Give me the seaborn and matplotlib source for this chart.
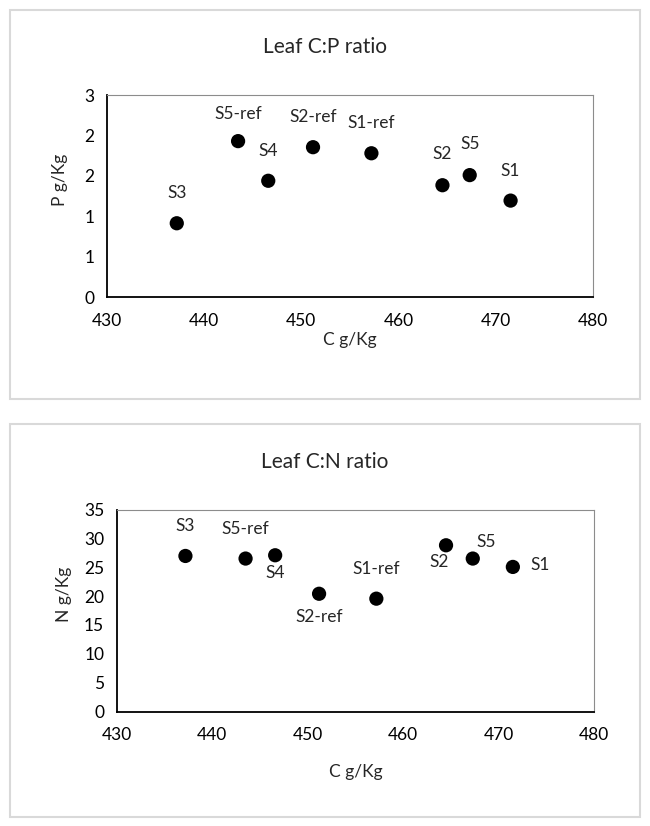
import matplotlib
matplotlib.use("Agg")
import matplotlib.pyplot as plt
import matplotlib.patches as patches
import pandas as pd
import seaborn as sns

# values
sites = ["S3", "S5-ref", "S4", "S2-ref", "S1-ref", "S2", "S5", "S1"]
carbon = [437.2, 443.5, 446.6, 451.2, 457.2, 464.5, 467.3, 471.5]
phosphorus = [0.915, 1.93, 1.44, 1.855, 1.78, 1.385, 1.51, 1.195]
nitrogen = [26.95, 26.5, 27.07, 20.4, 19.55, 28.8, 26.5, 25.05]

x_ticks = [430, 440, 450, 460, 470, 480]
p_ticks = [0, 0.5, 1.0, 1.5, 2.0, 2.5]
p_tick_labels = ["0", "1", "1", "2", "2", "3"]   # excel "0" number format
n_ticks = [0, 5, 10, 15, 20, 25, 30, 35]

# label offsets in pixels (dx, dy)
p_offsets = [(0, 30), (0, 27), (0, 30), (0, 30), (0, 30), (0, 31), (0, 31), (0, 30)]
n_offsets = [(0, 30), (0, 30), (0, -18), (0, -23), (0, 30), (-7, -17), (13, 17), (27, 2)]

df = pd.DataFrame({"site": sites, "C": carbon, "P": phosphorus, "N": nitrogen})

sns.set_theme(style="white")
plt.rcParams["font.family"] = ["Lato", "DejaVu Sans"]

W, H = 650, 826
fig = plt.figure(figsize=(W / 100, H / 100), dpi=100)

# chart area borders
for top, bot in [(10, 399), (424, 817)]:
    fig.patches.append(patches.Rectangle((10 / W, 1 - bot / H), 630 / W, (bot - top) / H,
                                         transform=fig.transFigure, fill=False,
                                         edgecolor="#d9d9d9", linewidth=1.5))


def style_axes(ax):
    for s in ["left", "bottom"]:
        ax.spines[s].set_color("black")
        ax.spines[s].set_linewidth(1.3)
    for s in ["top", "right"]:
        ax.spines[s].set_color("#8c8c8c")
        ax.spines[s].set_linewidth(0.8)
    ax.tick_params(axis="both", direction="out", length=4, width=1.3, color="black",
                   labelsize=12.5, labelcolor="black", pad=5)
    ax.tick_params(axis="x", pad=7)
    ax.grid(False)


def draw(ax, ycol, offsets):
    sns.scatterplot(data=df, x="C", y=ycol, ax=ax, color="black", s=105,
                    edgecolor="none", legend=False, clip_on=False)
    for name, xv, yv, (dx, dy) in zip(df["site"], df["C"], df[ycol], offsets):
        ax.annotate(name, (xv, yv), xytext=(dx, dy), textcoords="offset pixels",
                    ha="center", va="center", fontsize=12.5)


# top: C:P
ax1 = fig.add_axes([106.7 / W, 1 - 297.3 / H, 486.6 / W, 202.3 / H])
draw(ax1, "P", p_offsets)
ax1.set_xlim(430, 480)
ax1.set_ylim(0, 2.5)
ax1.set_xticks(x_ticks)
ax1.set_yticks(p_ticks)
ax1.set_yticklabels(p_tick_labels)
style_axes(ax1)
ax1.set_xlabel("C g/Kg", fontsize=12.5, va="center")
ax1.xaxis.set_label_coords(0.5, -(340 - 297.3) / 202.3)
ax1.set_ylabel("P g/Kg", fontsize=12.5, va="center")
ax1.yaxis.set_label_coords(-(106.7 - 60) / 486.6, 0.58)
fig.text(325 / W, 1 - 47.3 / H, "Leaf C:P ratio", ha="center", va="center", fontsize=15)

# bottom: C:N
ax2 = fig.add_axes([116.7 / W, 1 - 711.5 / H, 477.3 / W, 202 / H])
draw(ax2, "N", n_offsets)
ax2.set_xlim(430, 480)
ax2.set_ylim(0, 35)
ax2.set_xticks(x_ticks)
ax2.set_yticks(n_ticks)
style_axes(ax2)
ax2.set_xlabel("C g/Kg", fontsize=12.5, va="center")
ax2.xaxis.set_label_coords(0.5, -(772 - 711.5) / 202)
ax2.set_ylabel("N g/Kg", fontsize=12.5, va="center")
ax2.yaxis.set_label_coords(-(116.7 - 64) / 477.3, 0.58)
fig.text(325 / W, 1 - 462 / H, "Leaf C:N ratio", ha="center", va="center", fontsize=15)

fig.savefig("out.png", dpi=100, facecolor="white")
